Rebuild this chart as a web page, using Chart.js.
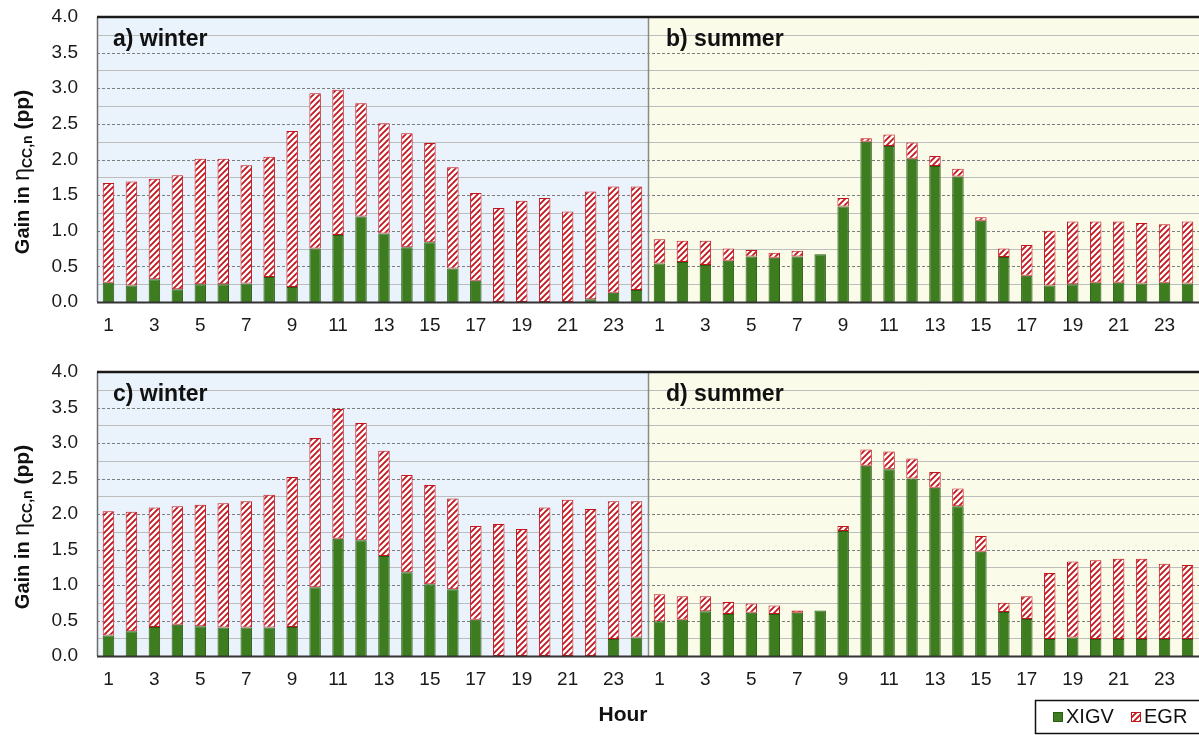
<!DOCTYPE html>
<html>
<head>
<meta charset="utf-8">
<script src="https://cdn.jsdelivr.net/npm/chart.js@4.4.1/dist/chart.umd.min.js"></script>
<style>
  html, body { margin: 0; padding: 0; background: #ffffff; }
  #wrap { position: relative; width: 1199px; height: 735px; overflow: hidden; }
  canvas { position: absolute; left: 0; }
  #cTop { top: 0; }
  #cBottom { top: 355px; }
</style>
</head>
<body>
<div id="wrap">
  <canvas id="cTop" width="1199" height="340"></canvas>
  <canvas id="cBottom" width="1199" height="380"></canvas>
</div>
<script>
// Hours of the day, shown once for winter and once for summer
const hours = [1,2,3,4,5,6,7,8,9,10,11,12,13,14,15,16,17,18,19,20,21,22,23,24];
const yTicks = [0.0, 0.5, 1.0, 1.5, 2.0, 2.5, 3.0, 3.5, 4.0];

// Panel a) winter
const aXIGV = [0.27,0.23,0.32,0.18,0.25,0.25,0.26,0.35,0.21,0.75,0.94,1.20,0.96,0.77,0.84,0.47,0.30,0,0,0,0,0.04,0.13,0.17];
const aEGR  = [1.40,1.46,1.41,1.60,1.76,1.76,1.66,1.69,2.19,2.18,2.04,1.59,1.55,1.60,1.39,1.42,1.23,1.32,1.42,1.46,1.27,1.51,1.49,1.45];
// Panel b) summer
const bXIGV = [0.54,0.56,0.52,0.58,0.64,0.62,0.64,0.67,1.34,2.25,2.19,2.01,1.91,1.76,1.14,0.63,0.37,0.23,0.25,0.27,0.27,0.26,0.27,0.26];
const bEGR  = [0.34,0.30,0.34,0.17,0.09,0.07,0.08,0,0.12,0.05,0.16,0.23,0.14,0.11,0.05,0.12,0.43,0.77,0.88,0.86,0.86,0.85,0.82,0.87];
// Panel c) winter
const cXIGV = [0.29,0.35,0.41,0.44,0.42,0.40,0.40,0.40,0.41,0.97,1.65,1.63,1.41,1.18,1.01,0.94,0.51,0,0,0,0,0,0.24,0.26];
const cEGR  = [1.75,1.68,1.68,1.67,1.71,1.75,1.78,1.87,2.11,2.10,1.83,1.65,1.48,1.37,1.40,1.28,1.32,1.86,1.79,2.09,2.20,2.07,1.94,1.92];
// Panel d) summer
const dXIGV = [0.49,0.51,0.63,0.59,0.61,0.59,0.61,0.64,1.76,2.68,2.63,2.50,2.37,2.11,1.47,0.62,0.52,0.24,0.26,0.24,0.24,0.24,0.24,0.24];
const dEGR  = [0.38,0.33,0.21,0.17,0.13,0.12,0.03,0,0.07,0.23,0.25,0.28,0.22,0.25,0.22,0.13,0.32,0.93,1.07,1.11,1.13,1.13,1.06,1.04];

const FONT = '"Liberation Sans", Arial, sans-serif';
const GREEN = '#3d7d1f';
const GREEN_EDGE = '#2b5c14';
const RED = '#c4141c';

// Red diagonal hatch used for the EGR segments
function makeHatch() {
  const t = document.createElement('canvas');
  t.width = 6; t.height = 6;
  const g = t.getContext('2d');
  g.fillStyle = '#ffffff';
  g.fillRect(0, 0, 6, 6);
  g.strokeStyle = RED;
  g.lineWidth = 1.8;
  g.beginPath();
  g.moveTo(-1, 7); g.lineTo(7, -1);
  g.moveTo(-4, 4); g.lineTo(4, -4);
  g.moveTo(2, 10); g.lineTo(10, 2);
  g.stroke();
  return t;
}
const hatchTile = makeHatch();

// Seasonal backgrounds, quarter-step grid lines and the winter/summer divider
const panelBackdrop = {
  id: 'panelBackdrop',
  beforeDatasetsDraw(chart) {
    const { ctx, chartArea: a, scales: { x, y } } = chart;
    const split = (x.getPixelForValue(23) + x.getPixelForValue(24)) / 2;
    ctx.save();
    ctx.fillStyle = '#eaf3fb';
    ctx.fillRect(a.left, a.top, split - a.left, a.bottom - a.top);
    ctx.fillStyle = '#fbfbea';
    ctx.fillRect(split, a.top, a.right - split, a.bottom - a.top);
    for (let v = 0.25; v < 4; v += 0.25) {
      const py = Math.round(y.getPixelForValue(v)) + 0.5;
      const major = Math.abs(v * 2 - Math.round(v * 2)) < 1e-6;
      ctx.beginPath();
      if (major) {
        ctx.strokeStyle = '#7d7d7d';
        ctx.setLineDash([3, 2]);
      } else {
        ctx.strokeStyle = '#bdbdbd';
        ctx.setLineDash([]);
      }
      ctx.lineWidth = 1;
      ctx.moveTo(a.left, py);
      ctx.lineTo(a.right, py);
      ctx.stroke();
    }
    ctx.setLineDash([]);
    ctx.strokeStyle = '#8a8a8a';
    ctx.lineWidth = 1.5;
    ctx.beginPath();
    ctx.moveTo(Math.round(split) + 0.5, a.top);
    ctx.lineTo(Math.round(split) + 0.5, a.bottom);
    ctx.stroke();
    ctx.restore();
  },
  afterDatasetsDraw(chart, args, opts) {
    const { ctx, chartArea: a } = chart;
    ctx.save();
    // frame
    ctx.strokeStyle = '#6e6e6e';
    ctx.lineWidth = 1.5;
    ctx.beginPath();
    ctx.moveTo(a.left + 0.5, a.top);
    ctx.lineTo(a.left + 0.5, a.bottom);
    ctx.stroke();
    ctx.strokeStyle = '#1a1a1a';
    ctx.lineWidth = 2.5;
    ctx.beginPath();
    ctx.moveTo(a.left, a.top);
    ctx.lineTo(a.right, a.top);
    ctx.stroke();
    ctx.lineWidth = 2;
    ctx.strokeStyle = '#333333';
    ctx.beginPath();
    ctx.moveTo(a.left, a.bottom + 0.5);
    ctx.lineTo(a.right, a.bottom + 0.5);
    ctx.stroke();

    // panel captions
    const x = chart.scales.x;
    const split = (x.getPixelForValue(23) + x.getPixelForValue(24)) / 2;
    ctx.fillStyle = '#111111';
    ctx.font = 'bold 23px ' + FONT;
    ctx.textBaseline = 'alphabetic';
    ctx.textAlign = 'left';
    ctx.fillText(opts.left, a.left + 16, a.top + 29);
    ctx.fillText(opts.right, split + 18, a.top + 29);

    // rotated y-axis title with subscript
    ctx.translate(22, a.top + 155);
    ctx.rotate(-Math.PI / 2);
    const parts = [
      { t: 'Gain in ', f: 'bold 20px ' + FONT, dy: 0 },
      { t: '\u03b7', f: '23px ' + FONT, dy: 0 },
      { t: 'CC,n', f: 'bold 14px ' + FONT, dy: 5 },
      { t: ' (pp)', f: 'bold 21px ' + FONT, dy: 0 }
    ];
    let total = 0;
    parts.forEach(p => { ctx.font = p.f; p.w = ctx.measureText(p.t).width; total += p.w; });
    let cx = -total / 2;
    ctx.textBaseline = 'middle';
    parts.forEach(p => {
      ctx.font = p.f;
      ctx.fillText(p.t, cx, p.dy + 1);
      cx += p.w;
    });
    ctx.restore();

    if (opts.footer) {
      ctx.save();
      ctx.fillStyle = '#111111';
      ctx.font = 'bold 21px ' + FONT;
      ctx.textAlign = 'center';
      ctx.textBaseline = 'middle';
      ctx.fillText('Hour', 623, 360);
      // legend box
      ctx.strokeStyle = '#111111';
      ctx.lineWidth = 1.5;
      ctx.strokeRect(1035.5, 345.5, 170, 33);
      ctx.fillStyle = GREEN;
      ctx.fillRect(1053, 357, 10, 10);
      ctx.strokeStyle = GREEN_EDGE;
      ctx.lineWidth = 1;
      ctx.strokeRect(1053.5, 357.5, 9, 9);
      ctx.fillStyle = ctx.createPattern(hatchTile, 'repeat');
      ctx.fillRect(1131, 357, 10, 10);
      ctx.strokeStyle = RED;
      ctx.strokeRect(1131.5, 357.5, 9, 9);
      ctx.fillStyle = '#111111';
      ctx.font = '20px ' + FONT;
      ctx.textAlign = 'left';
      ctx.fillText('XIGV', 1066, 362);
      ctx.fillText('EGR', 1144, 362);
      ctx.restore();
    }
  }
};

function buildPanel(canvasId, winterX, winterE, summerX, summerE, leftCaption, rightCaption, axisHeight, footer) {
  const cv = document.getElementById(canvasId);
  const ctx = cv.getContext('2d');
  const hatch = ctx.createPattern(hatchTile, 'repeat');
  const labels = hours.concat(hours).map(String);
  return new Chart(ctx, {
    type: 'bar',
    data: {
      labels: labels,
      datasets: [
        {
          label: 'XIGV',
          data: winterX.concat(summerX),
          backgroundColor: GREEN,
          borderColor: GREEN_EDGE,
          borderWidth: 1,
          borderSkipped: 'start'
        },
        {
          label: 'EGR',
          data: winterE.concat(summerE),
          backgroundColor: hatch,
          borderColor: RED,
          borderWidth: 1,
          borderSkipped: false
        }
      ]
    },
    options: {
      responsive: false,
      animation: false,
      devicePixelRatio: 1,
      layout: { padding: { top: 17, left: 0, right: 0, bottom: 0 } },
      datasets: { bar: { categoryPercentage: 1.0, barPercentage: 0.5 } },
      plugins: {
        legend: { display: false },
        tooltip: { enabled: false },
        panelBackdrop: { left: leftCaption, right: rightCaption, footer: footer }
      },
      scales: {
        x: {
          stacked: true,
          grid: { display: false, drawTicks: false },
          border: { display: false },
          ticks: {
            autoSkip: false,
            maxRotation: 0,
            padding: 12,
            color: '#1a1a1a',
            font: { family: FONT, size: 19 },
            callback: function (v, i) { return i % 2 === 0 ? this.getLabelForValue(v) : ''; }
          },
          afterFit: s => {
            s.height = axisHeight;
            s.paddingLeft = 0; s.paddingRight = 0;
          }
        },
        y: {
          stacked: true,
          min: 0,
          max: 4,
          grid: { display: false, drawTicks: false },
          border: { display: false },
          afterBuildTicks: s => { s.ticks = yTicks.map(v => ({ value: v })); },
          ticks: {
            padding: 19,
            color: '#1a1a1a',
            font: { family: FONT, size: 19 },
            callback: v => Number(v).toFixed(1)
          },
          afterFit: s => {
            s.width = 97;
            s.paddingTop = 0; s.paddingBottom = 0;
          }
        }
      }
    },
    plugins: [panelBackdrop]
  });
}

buildPanel('cTop', aXIGV, aEGR, bXIGV, bEGR, 'a) winter', 'b) summer', 38, false);
buildPanel('cBottom', cXIGV, cEGR, dXIGV, dEGR, 'c) winter', 'd) summer', 79, true);
</script>
</body>
</html>
